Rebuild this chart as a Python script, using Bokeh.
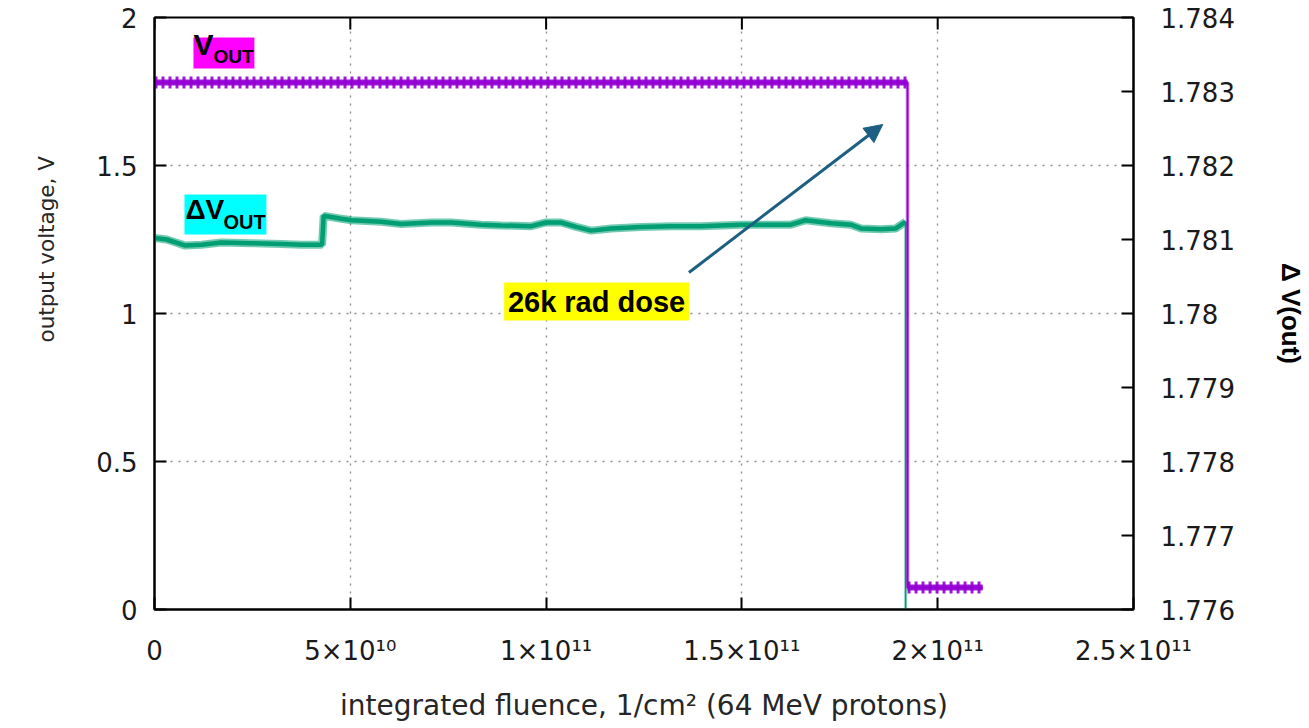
import math
from bokeh.plotting import figure
from bokeh.models import (Range1d, LinearAxis, FixedTicker, Label, BoxAnnotation,
                          Arrow, NormalHead, CustomJSTickFormatter, Title)
from bokeh.embed import file_html
from bokeh.resources import INLINE

# ---------------- data ----------------
x_ticks = [0, 5e10, 1e11, 1.5e11, 2e11, 2.5e11]
x_tick_labels = ["0", "5×10¹⁰", "1×10¹¹", "1.5×10¹¹", "2×10¹¹", "2.5×10¹¹"]
left_ticks = [0, 0.5, 1, 1.5, 2]
left_tick_labels = ["0", "0.5", "1", "1.5", "2"]
right_ticks = [1.776, 1.777, 1.778, 1.779, 1.780, 1.781, 1.782, 1.783, 1.784]
right_tick_labels = ["1.776", "1.777", "1.778", "1.779", "1.78", "1.781", "1.782", "1.783", "1.784"]

# V_OUT (left axis, volts)
vout_fluence = [0.0, 1.923e11, 1.923e11, 2.115e11]
vout_volts = [1.780, 1.780, 0.074, 0.074]

# Delta V_OUT (right axis)
dvout_fluence = [0.0, 0.31e10, 0.77e10, 1.20e10, 1.71e10, 2.47e10, 3.24e10, 3.75e10,
                 4.21e10, 4.28e10, 4.32e10, 4.77e10, 5.03e10, 5.79e10, 6.30e10, 7.07e10,
                 7.58e10, 8.34e10, 8.85e10, 9.62e10, 1.00e11, 1.038e11, 1.077e11, 1.115e11,
                 1.166e11, 1.242e11, 1.319e11, 1.395e11, 1.497e11, 1.574e11, 1.625e11,
                 1.663e11, 1.727e11, 1.778e11, 1.804e11, 1.855e11, 1.893e11, 1.918e11,
                 1.918e11]
dvout_volts = [1.78102, 1.78100, 1.78092, 1.78093, 1.78096, 1.78095, 1.78094, 1.78093,
               1.78093, 1.78093, 1.78132, 1.78128, 1.78126, 1.78124, 1.78121, 1.78123,
               1.78123, 1.78120, 1.78119, 1.78118, 1.78123, 1.78123, 1.78117, 1.78112,
               1.78115, 1.78117, 1.78118, 1.78118, 1.78120, 1.78120, 1.78120,
               1.78126, 1.78122, 1.78120, 1.78115, 1.78114, 1.78115, 1.78124,
               1.77500]

PURPLE = "#9400D3"
GREEN = "#009E73"
ARROW = "#1C5F82"
TICK_FONT = "DejaVu Sans"
ANN_FONT = "Liberation Sans"

p = figure(width=1309, height=728, output_backend="svg", toolbar_location=None,
           x_range=Range1d(0, 2.5e11), y_range=Range1d(0, 2),
           min_border_left=153, min_border_right=176, min_border_top=17,
           min_border_bottom=119)
p.extra_y_ranges = {"dv": Range1d(1.776, 1.784)}
p.background_fill_color = "white"
p.border_fill_color = "white"
p.outline_line_color = "black"
p.outline_line_width = 2


def fmt(tvals, tlabels):
    return CustomJSTickFormatter(args=dict(tvals=tvals, tlabels=tlabels), code="""
        for (let i = 0; i < tvals.length; i++) {
            if (Math.abs(tvals[i] - tick) <= 1e-6 * Math.max(1, Math.abs(tvals[i]))) return tlabels[i];
        }
        return '';
    """)


def style_axis(ax, standoff):
    ax.axis_line_color = "black"
    ax.axis_line_width = 2
    ax.major_tick_in = 12
    ax.major_tick_out = 0
    ax.major_tick_line_width = 2
    ax.major_tick_line_color = "black"
    ax.minor_tick_line_color = None
    ax.major_label_text_font = TICK_FONT
    ax.major_label_text_font_size = "26px"
    ax.major_label_text_color = "#1a1a1a"
    ax.major_label_standoff = standoff


# bottom axis
xa = p.xaxis[0]
xa.ticker = FixedTicker(ticks=x_ticks)
xa.formatter = fmt(x_ticks, x_tick_labels)
style_axis(xa, 26)
xa.axis_label = "integrated fluence, 1/cm² (64 MeV protons)"
xa.axis_label_text_font = TICK_FONT
xa.axis_label_text_font_size = "28px"
xa.axis_label_text_font_style = "normal"
xa.axis_label_text_color = "#262626"
xa.axis_label_standoff = 20

# left axis
ya = p.yaxis[0]
ya.ticker = FixedTicker(ticks=left_ticks)
ya.formatter = fmt(left_ticks, left_tick_labels)
style_axis(ya, 17)

# right axis
ra = LinearAxis(y_range_name="dv", ticker=FixedTicker(ticks=right_ticks),
                formatter=fmt(right_ticks, right_tick_labels))
style_axis(ra, 27)
ra.axis_label = "Δ V(out)"
ra.axis_label_text_font = ANN_FONT
ra.axis_label_text_font_size = "26px"
ra.axis_label_text_font_style = "bold"
ra.axis_label_text_color = "black"
ra.axis_label_standoff = 38
p.add_layout(ra, "right")

# left axis title, placed off-centre as in the reference
p.add_layout(Title(text="output voltage, V", align="left", offset=267, standoff=66,
                   vertical_align="top",
                   text_font=TICK_FONT, text_font_size="21.5px", text_font_style="normal",
                   text_color="#262626"), "left")

# grid
p.xgrid.ticker = FixedTicker(ticks=x_ticks)
p.ygrid.ticker = FixedTicker(ticks=left_ticks)
for g in (p.xgrid[0], p.ygrid[0]):
    g.grid_line_color = "#8c8c8c"
    g.grid_line_dash = "2 6"
    g.grid_line_width = 1.3

# mirrored x ticks on the top border
n = len(x_ticks)
p.segment(x0=x_ticks, y0=[2.0] * n, x1=x_ticks, y1=[2.0 - 12 / 296] * n,
          line_color="black", line_width=2)

# Delta V_OUT trace (thick noisy band, thin drop)
p.line(dvout_fluence[:-1], dvout_volts[:-1], y_range_name="dv",
       line_color=GREEN, line_width=8, line_alpha=0.55)
p.line(dvout_fluence[:-1], dvout_volts[:-1], y_range_name="dv",
       line_color=GREEN, line_width=4.5)
p.line(dvout_fluence, dvout_volts, y_range_name="dv",
       line_color=GREEN, line_width=2)

# V_OUT trace
p.line(vout_fluence, vout_volts, line_color=PURPLE, line_width=4, line_alpha=0.35)
p.line(vout_fluence, vout_volts, line_color=PURPLE, line_width=2)
seg_x = [vout_fluence[0:2], vout_fluence[2:4]]
seg_y = [vout_volts[0:2], vout_volts[2:4]]
p.multi_line(seg_x, seg_y, line_color=PURPLE, line_width=6, line_alpha=0.9)
p.multi_line(seg_x, seg_y, line_color=PURPLE, line_width=12, line_dash="3 4",
             line_alpha=0.9)

# arrow
p.add_layout(Arrow(end=NormalHead(size=18, fill_color=ARROW, line_color=ARROW),
                   x_start=1.3648e11, y_start=1.1385, x_end=1.8597e11, y_end=1.6385,
                   line_color=ARROW, line_width=3))

# annotation boxes
p.add_layout(BoxAnnotation(left=0.995e10, right=2.551e10, top=1.9324, bottom=1.8277,
                           fill_color="#FF00FF", fill_alpha=1, line_color=None))
p.add_layout(BoxAnnotation(left=0.765e10, right=2.857e10, top=1.402, bottom=1.2669,
                           fill_color="#00FFFF", fill_alpha=1, line_color=None))
p.add_layout(BoxAnnotation(left=8.929e10, right=1.3648e11, top=1.1047, bottom=0.9764,
                           fill_color="#FFFF00", fill_alpha=1, line_color=None))


def lab(x, y, text, size, **kw):
    p.add_layout(Label(x=x, y=y, text=text, text_font=ANN_FONT, text_font_size=size,
                       text_font_style="bold", text_color="black", **kw))


lab(0.995e10, 1.8547, "V", "30px")
lab(1.505e10, 1.8311, "OUT", "19px")
lab(0.791e10, 1.2973, "ΔV", "28px")
lab(1.760e10, 1.2703, "OUT", "20px")
lab(1.1288e11, 1.0405, "26k rad dose", "29px", text_align="center", text_baseline="middle")

open("out.html", "w").write(file_html(p, INLINE))
